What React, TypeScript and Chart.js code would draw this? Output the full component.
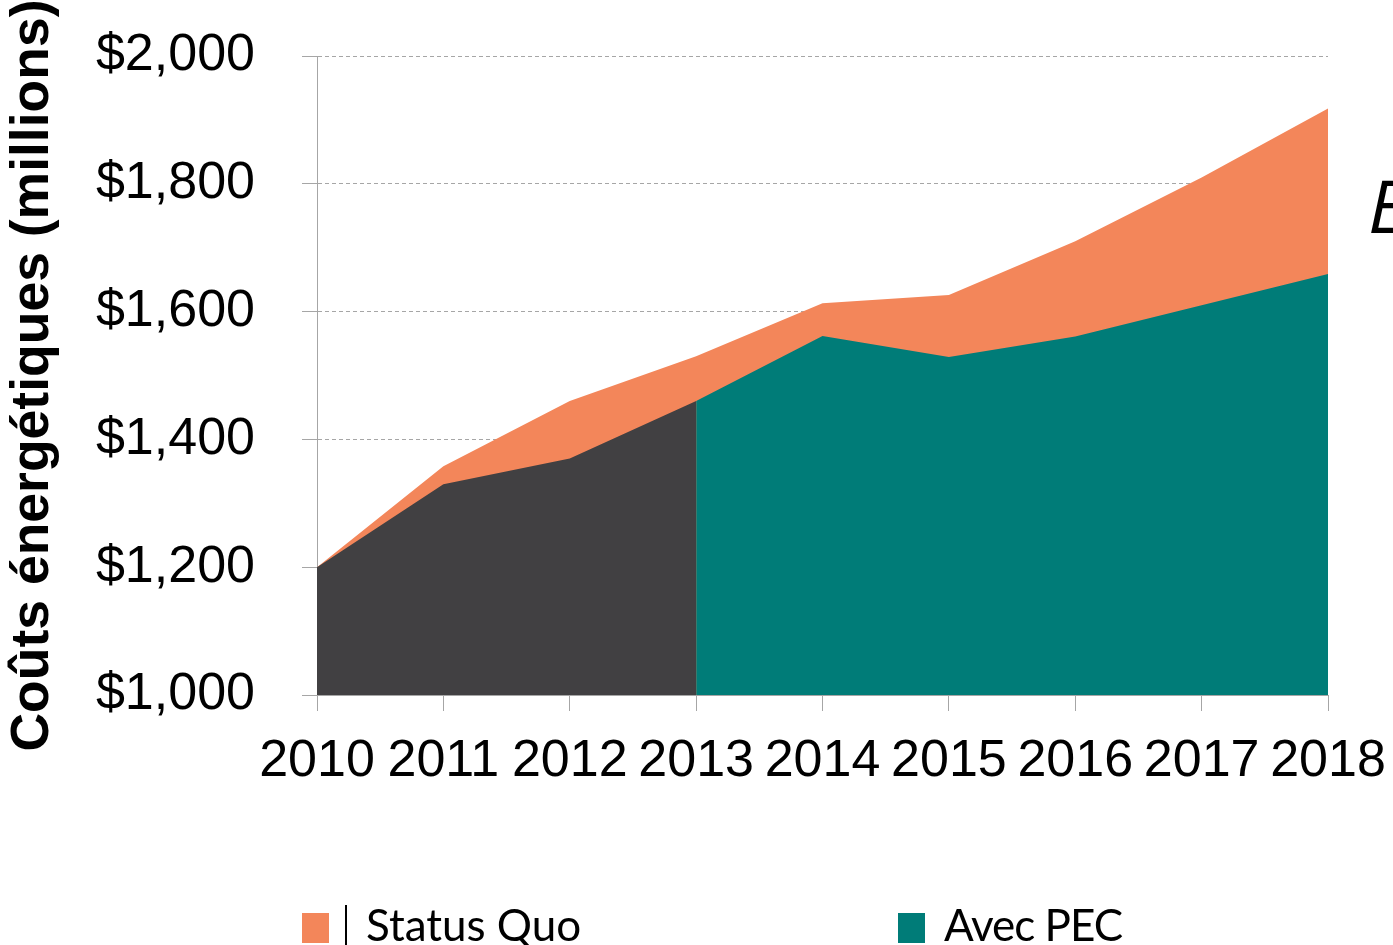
import React, { useEffect, useRef } from "react";
import { Chart, registerables } from "chart.js";

Chart.register(...registerables);

const years = ["2010", "2011", "2012", "2013", "2014", "2015", "2016", "2017", "2018"];
const statusQuo = [1200, 1358, 1460, 1530, 1613, 1626, 1710, 1810, 1918];
const historique = [1200, 1330, 1370, 1460, null, null, null, null, null];
const avecPEC = [null, null, null, 1460, 1562, 1529, 1561, 1610, 1659];
const yTicks = [1000, 1200, 1400, 1600, 1800, 2000];
const yTitle = "Coûts énergétiques (millions)";
const legendLabels = ["Status Quo", "Avec PEC"];

const ORANGE = "#F3865A";
const TEAL = "#007C78";
const DARK = "#414042";
const GRID = "#A6A6A6";

export default function App() {
  const ref = useRef<HTMLCanvasElement | null>(null);

  useEffect(() => {
    if (!ref.current) return;
    const chart = new Chart(ref.current, {
      type: "line",
      data: {
        labels: years,
        datasets: [
          {
            label: "Historique",
            data: historique,
            backgroundColor: DARK,
            borderWidth: 0,
            pointRadius: 0,
            fill: "start",
            tension: 0,
          },
          {
            label: legendLabels[1],
            data: avecPEC,
            backgroundColor: TEAL,
            borderWidth: 0,
            pointRadius: 0,
            fill: "start",
            tension: 0,
          },
          {
            label: legendLabels[0],
            data: statusQuo,
            backgroundColor: ORANGE,
            borderWidth: 0,
            pointRadius: 0,
            fill: "start",
            tension: 0,
          },
        ],
      },
      options: {
        responsive: false,
        animation: false,
        layout: { padding: { top: 56, right: 65, bottom: 0, left: 0 } },
        plugins: {
          legend: { display: false },
          tooltip: { enabled: false },
        },
        scales: {
          x: {
            type: "category",
            offset: false,
            afterFit: (s: any) => {
              s.height = 250;
              s.paddingLeft = 0;
              s.paddingRight = 0;
            },
            grid: {
              drawOnChartArea: false,
              drawTicks: true,
              tickLength: 16,
              tickColor: GRID,
              color: GRID,
            },
            border: { display: true, color: GRID, width: 1 },
            ticks: {
              color: "#000",
              padding: 19,
              maxRotation: 0,
              autoSkip: false,
              font: { family: "'Liberation Sans', Arial, sans-serif", size: 52 },
            },
          },
          y: {
            min: 1000,
            max: 2000,
            afterFit: (s: any) => {
              s.width = 317;
              s.paddingTop = 0;
              s.paddingBottom = 0;
            },
            afterBuildTicks: (s: any) => {
              s.ticks = yTicks.map((v) => ({ value: v }));
            },
            grid: {
              drawOnChartArea: true,
              drawTicks: true,
              tickLength: 15,
              color: GRID,
              tickColor: GRID,
              tickBorderDash: [],
            },
            border: { display: true, color: GRID, width: 1, dash: [4, 3] },
            ticks: {
              color: "#000",
              padding: 47,
              font: { family: "'Liberation Sans', Arial, sans-serif", size: 52 },
              callback: (v: any) => "$" + Number(v).toLocaleString("en-US"),
            },
            title: {
              display: true,
              text: yTitle,
              color: "#000",
              padding: { top: 0, bottom: 0 },
              font: {
                family: "'Liberation Sans', Arial, sans-serif",
                size: 53.5,
                weight: "bold",
                lineHeight: 1.26,
              },
            },
          },
        },
      },
    });
    return () => chart.destroy();
  }, []);

  const legendText: React.CSSProperties = {
    position: "absolute",
    fontFamily: "Lato, 'Open Sans', sans-serif",
    fontSize: 44,
    lineHeight: "44px",
    color: "#000",
    whiteSpace: "nowrap",
  };

  return (
    <div
      style={{
        position: "absolute",
        left: 0,
        top: 0,
        width: 1393,
        height: 945,
        overflow: "hidden",
        background: "#fff",
      }}
    >
      <canvas ref={ref} width={1393} height={945} style={{ display: "block" }} />
      <div
        style={{
          position: "absolute",
          left: 1368,
          top: 160,
          fontFamily: "'Open Sans', sans-serif",
          fontStyle: "italic",
          fontWeight: 400,
          fontSize: 74,
          lineHeight: "90px",
          color: "#000",
        }}
      >
        E
      </div>
      <div style={{ position: "absolute", left: 302, top: 913, width: 27, height: 30, background: ORANGE }} />
      <div style={{ position: "absolute", left: 345, top: 905, width: 1.5, height: 40, background: "#000" }} />
      <div style={{ ...legendText, left: 366, top: 902 }}>{legendLabels[0]}</div>
      <div style={{ position: "absolute", left: 898, top: 913, width: 27, height: 30, background: TEAL }} />
      <div style={{ ...legendText, left: 944, top: 902, letterSpacing: -1 }}>{legendLabels[1]}</div>
    </div>
  );
}
